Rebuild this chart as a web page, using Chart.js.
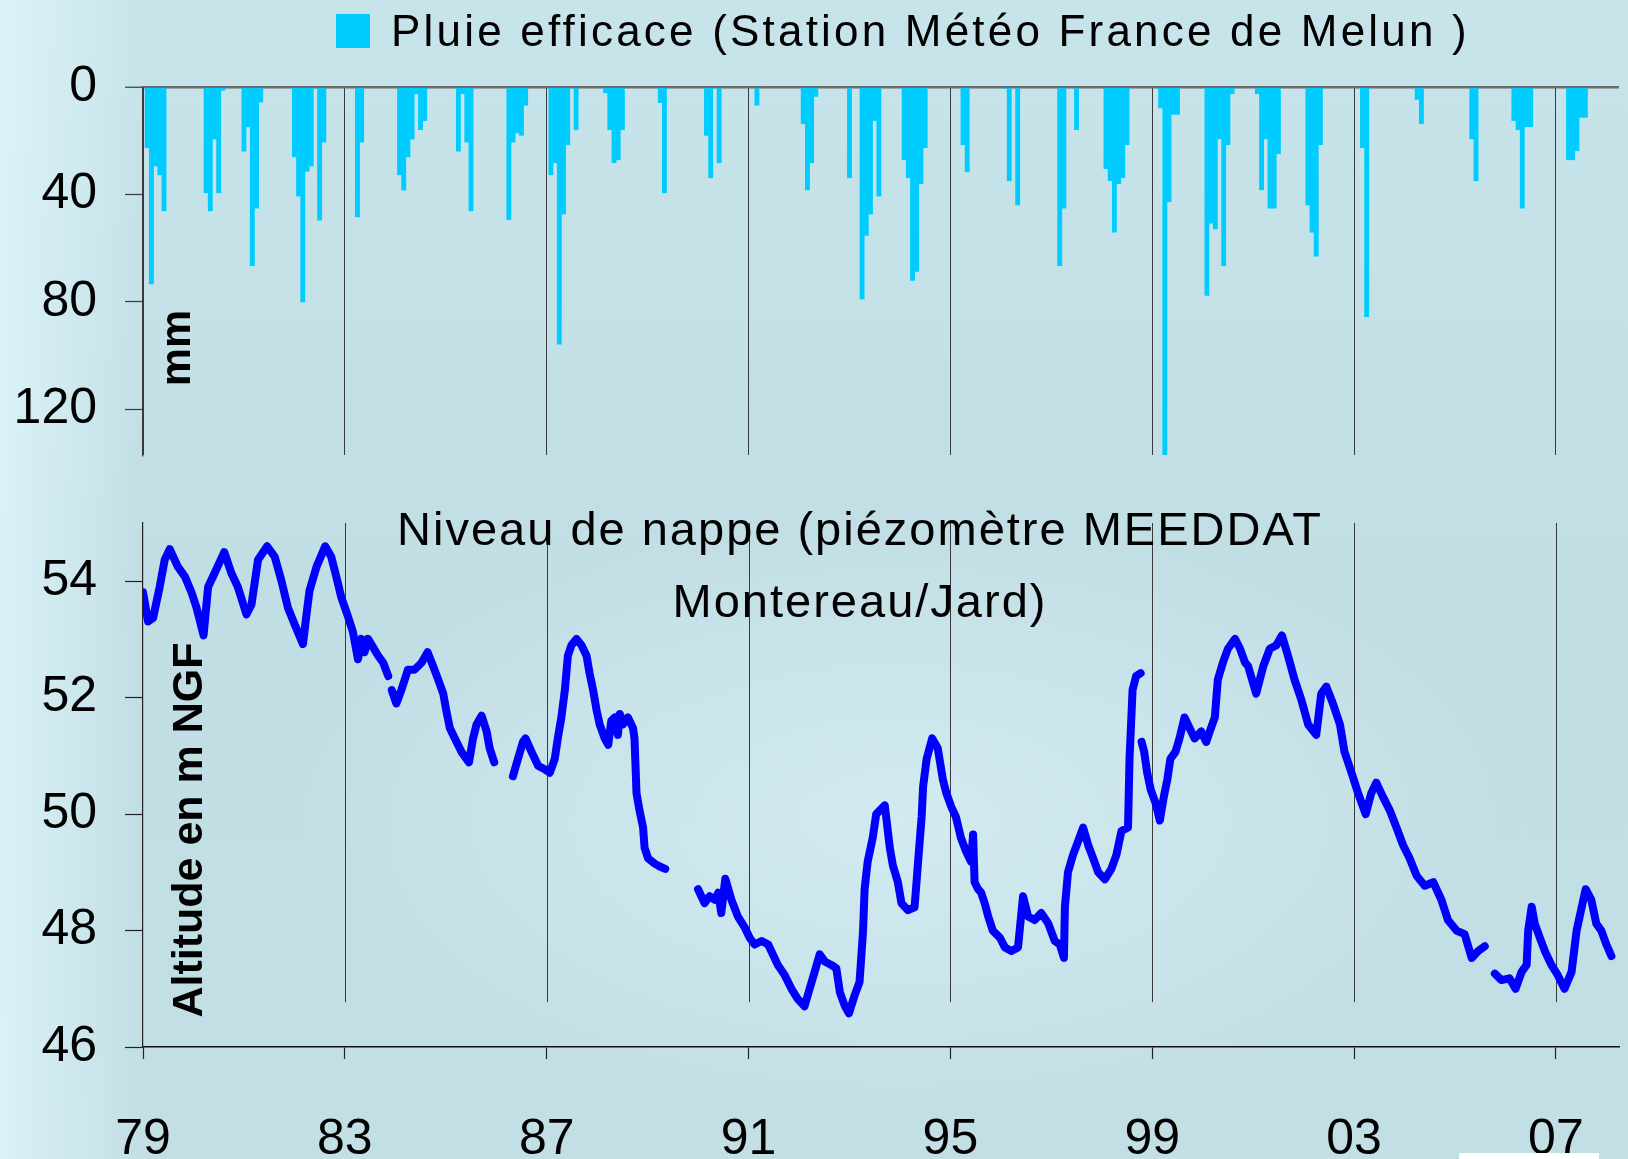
<!DOCTYPE html>
<html lang="fr">
<head>
<meta charset="utf-8">
<title>Pluie efficace et niveau de nappe</title>
<script src="https://cdn.jsdelivr.net/npm/chart.js"></script>
<style>
  html, body { margin: 0; padding: 0; }
  body {
    width: 1628px; height: 1159px; overflow: hidden; position: relative;
    background:
      linear-gradient(90deg, rgba(225,248,253,0.75) 0px, rgba(225,248,253,0) 140px),
      radial-gradient(ellipse 600px 300px at 900px 820px, rgba(214,238,244,0.8), rgba(214,238,244,0)),
      linear-gradient(180deg, #c8e4eb 0%, #c2dee5 50%, #c3dfe6 100%);
  }
  .box { position: absolute; left: 0; }
  #rainBox { top: 0; }
  #levelBox { top: 470px; }
  #corner { position: absolute; left: 1459px; top: 1153px; width: 140px; height: 6px; background: #fff; }
</style>
</head>
<body>
<div class="box" id="rainBox"><canvas id="rainChart" width="1628" height="470"></canvas></div>
<div class="box" id="levelBox"><canvas id="levelChart" width="1628" height="689"></canvas></div>
<div id="corner"></div>
<script>
// Pluie efficace mensuelle (mm)
const rainLabel = 'Pluie efficace (Station Météo France de Melun )';
const rainMonths = [
  '1979-02','1979-03','1979-04','1979-05','1979-06',
  '1980-04','1980-05','1980-06','1980-07','1980-08',
  '1981-01','1981-02','1981-03','1981-04','1981-05',
  '1982-01','1982-02','1982-03','1982-04','1982-05','1982-07','1982-08',
  '1983-04','1983-05',
  '1984-02','1984-03','1984-04','1984-05','1984-06','1984-07','1984-08',
  '1985-04','1985-05','1985-06','1985-07',
  '1986-04','1986-05','1986-06','1986-07','1986-08',
  '1987-02','1987-03','1987-04','1987-05','1987-06','1987-08',
  '1988-03','1988-04','1988-05','1988-06','1988-07',
  '1989-04','1989-05',
  '1990-03','1990-04','1990-06',
  '1991-03',
  '1992-02','1992-03','1992-04','1992-05',
  '1993-01','1993-04','1993-05','1993-06','1993-07','1993-08',
  '1994-02','1994-03','1994-04','1994-05','1994-06','1994-07',
  '1995-04','1995-05',
  '1996-02','1996-03','1996-05',
  '1997-03','1997-04','1997-07',
  '1998-02','1998-03','1998-04','1998-05','1998-06','1998-07',
  '1999-03','1999-04','1999-05','1999-06','1999-07',
  '2000-02','2000-03','2000-04','2000-05','2000-06','2000-07','2000-08',
  '2001-02','2001-03','2001-04','2001-05','2001-06','2001-07',
  '2002-02','2002-03','2002-04','2002-05',
  '2003-03','2003-04',
  '2004-04','2004-05',
  '2005-05','2005-06',
  '2006-03','2006-04','2006-05','2006-06','2006-07',
  '2007-04','2007-05','2007-06','2007-07','2007-08'
];
const rainMm = [
  22.6, 73.3, 29.4, 32.7, 46.1,
  39.4, 46.1, 19.4, 39.4, 1.2,
  23.9, 14.8, 66.5, 45.1, 5.6,
  26, 40.6, 80, 31.4, 29.4, 49.6, 20.5,
  48.4, 20.5,
  32.7, 38.4, 26, 19.4, 2.5, 15.9, 12.5,
  23.9, 2.5, 20.5, 46.1,
  49.4, 20.5, 17.1, 18, 6.8,
  32.7, 28.2, 95.7, 47.3, 21.5, 15.9,
  2.2, 15.9, 28.2, 27.1, 15.9,
  5.8, 39.4,
  18, 33.8, 28.2,
  6.8,
  13.7, 38.3, 28.2, 3.5,
  33.8, 78.9, 55.3, 47.3, 12.5, 40.6,
  27.1, 33.8, 72, 68.7, 36, 22.6,
  21.5, 31.6,
  0.6, 34.9, 43.9,
  66.5, 45.1, 15.9,
  30.4, 34.9, 54, 36, 33.8, 21.5,
  7.8, 137, 42.7, 10.2, 10.2,
  77.6, 50.7, 52.8, 19.3, 66.5, 21.5, 2.5,
  2.5, 38.3, 19.3, 45.1, 45.1, 24.8,
  43.9, 54, 63, 21.5,
  22.6, 85.5,
  4.6, 13.7,
  19.3, 34.9,
  12.5, 15.9, 45.1, 14.8, 14.8,
  27.1, 27.1, 23.7, 11.3, 11.3
];
const rainTicks = [0, 40, 80, 120];

// Niveau de nappe (m NGF), null = lacune
const levelTitleLines = ['Niveau de nappe (piézomètre MEEDDAT', 'Montereau/Jard)'];
const levelYear = [
  1979.00, 1979.10, 1979.20, 1979.33, 1979.43, 1979.53, 1979.69, 1979.83, 1979.96,
  1980.06, 1980.20, 1980.29, 1980.42, 1980.61, 1980.75, 1980.88,
  1981.05, 1981.15, 1981.28, 1981.46, 1981.61, 1981.74, 1981.87,
  1982.01, 1982.17, 1982.24, 1982.30, 1982.44, 1982.61, 1982.73, 1982.83, 1982.93,
  1983.06, 1983.16, 1983.26, 1983.33, 1983.39, 1983.46, 1983.66, 1983.76, 1983.86,
  1983.895,
  1983.93, 1984.02, 1984.12, 1984.25, 1984.38, 1984.52, 1984.64, 1984.75, 1984.85, 1984.95,
  1985.01, 1985.08, 1985.18, 1985.31, 1985.46, 1985.54, 1985.61, 1985.71, 1985.81, 1985.87, 1985.96,
  1986.15,
  1986.33, 1986.43, 1986.53, 1986.58, 1986.70, 1986.83, 1986.96,
  1987.06, 1987.16, 1987.22, 1987.29, 1987.36, 1987.42, 1987.49, 1987.59, 1987.69, 1987.79, 1987.85, 1987.92, 1987.99,
  1988.05, 1988.15, 1988.22, 1988.28, 1988.35, 1988.41, 1988.45, 1988.51, 1988.61, 1988.71, 1988.74, 1988.78, 1988.84, 1988.91, 1988.94,
  1989.01, 1989.14, 1989.24, 1989.35,
  1989.70,
  1990.00, 1990.13, 1990.23, 1990.33, 1990.40, 1990.46, 1990.54, 1990.66, 1990.79, 1990.92,
  1991.02, 1991.12, 1991.26, 1991.39, 1991.45, 1991.58, 1991.72, 1991.85, 1991.98,
  1992.11, 1992.21, 1992.31, 1992.41, 1992.51, 1992.64, 1992.74, 1992.81, 1992.91, 1992.99,
  1993.10, 1993.20, 1993.27, 1993.30, 1993.36, 1993.46, 1993.53, 1993.70, 1993.80, 1993.86, 1993.96,
  1994.03, 1994.16, 1994.29, 1994.36, 1994.43, 1994.46, 1994.53, 1994.64, 1994.75, 1994.85, 1994.92,
  1995.02, 1995.11, 1995.21, 1995.31, 1995.41, 1995.45, 1995.48, 1995.55, 1995.61, 1995.68, 1995.75, 1995.84, 1995.98,
  1996.08, 1996.21, 1996.34, 1996.44, 1996.54, 1996.67, 1996.80, 1996.94,
  1997.07, 1997.17, 1997.25, 1997.27, 1997.33, 1997.43, 1997.53, 1997.63, 1997.73, 1997.83, 1997.93,
  1998.06, 1998.19, 1998.29, 1998.39, 1998.52, 1998.55, 1998.58, 1998.61, 1998.68, 1998.77,
  1998.78,
  1998.79, 1998.84, 1998.90, 1998.97,
  1999.07, 1999.15, 1999.23, 1999.30, 1999.36, 1999.46, 1999.54, 1999.64, 1999.74, 1999.84, 1999.97,
  2000.07, 2000.14, 2000.24, 2000.30, 2000.40, 2000.50, 2000.64, 2000.74, 2000.84, 2000.90,
  2001.06, 2001.20, 2001.33, 2001.46, 2001.57, 2001.69, 2001.82, 2001.96,
  2002.09, 2002.25, 2002.35, 2002.45, 2002.58, 2002.72, 2002.81, 2002.95,
  2003.08, 2003.23, 2003.34, 2003.44, 2003.57, 2003.71, 2003.84, 2003.97,
  2004.10, 2004.24, 2004.40, 2004.57, 2004.73, 2004.86,
  2005.03, 2005.19, 2005.33, 2005.46, 2005.59,
  2005.70,
  2005.79, 2005.92, 2006.08, 2006.20, 2006.32, 2006.42, 2006.45, 2006.52, 2006.58, 2006.68, 2006.78, 2006.91,
  2007.04, 2007.17, 2007.31, 2007.41, 2007.47, 2007.59, 2007.70, 2007.80, 2007.90, 2008.00, 2008.10
];
const levelM = [
  53.81, 53.31, 53.37, 53.90, 54.37, 54.55, 54.25, 54.08, 53.81,
  53.55, 53.07, 53.90, 54.14, 54.50, 54.14, 53.90,
  53.43, 53.60, 54.37, 54.60, 54.42, 54.02, 53.55,
  53.25, 52.92, 53.43, 53.84, 54.25, 54.60, 54.42, 54.08, 53.72,
  53.40, 53.13, 52.66, 53.01, 52.78, 53.01, 52.72, 52.60, 52.37,
  null,
  52.13, 51.90, 52.13, 52.48, 52.48, 52.60, 52.78, 52.54, 52.31, 52.07,
  51.78, 51.48, 51.30, 51.07, 50.89, 51.30, 51.54, 51.69, 51.42, 51.13, 50.89,
  null,
  50.65, 50.95, 51.24, 51.30, 51.07, 50.83, 50.77,
  50.71, 50.95, 51.30, 51.66, 52.13, 52.72, 52.90, 53.01, 52.90, 52.72, 52.42, 52.13, 51.78,
  51.54, 51.30, 51.19, 51.60, 51.66, 51.36, 51.72, 51.54, 51.66, 51.48, 51.30, 50.36, 50.06, 49.77, 49.42,
  49.24, 49.15, 49.10, 49.06,
  null,
  48.71, 48.47, 48.59, 48.53, 48.65, 48.30, 48.89, 48.53, 48.24, 48.06,
  47.88, 47.76, 47.82, 47.76, 47.65, 47.41, 47.23, 47.00, 46.82,
  46.70, 47.00, 47.29, 47.59, 47.47, 47.41, 47.35, 46.94, 46.70, 46.58,
  46.88, 47.12, 48.00, 48.71, 49.18, 49.59, 50.00, 50.15, 49.42, 49.12, 48.83,
  48.47, 48.35, 48.40, 49.18, 49.95, 50.48, 50.95, 51.30, 51.13, 50.60, 50.36,
  50.12, 49.95, 49.59, 49.36, 49.18, 49.65, 48.83, 48.71, 48.65, 48.47, 48.24, 48.00, 47.88,
  47.71, 47.65, 47.71, 48.59, 48.24, 48.18, 48.30, 48.12,
  47.82, 47.76, 47.53, 48.41, 49.00, 49.30, 49.53, 49.77, 49.47, 49.24, 49.00,
  48.88, 49.06, 49.30, 49.71, 49.77, 50.95, 51.54, 52.13, 52.37, 52.42,
  null,
  51.24, 51.07, 50.71, 50.42,
  50.18, 49.89, 50.30, 50.60, 50.95, 51.07, 51.30, 51.66, 51.48, 51.30, 51.42,
  51.24, 51.42, 51.66, 52.31, 52.60, 52.84, 53.01, 52.84, 52.60, 52.54,
  52.07, 52.54, 52.84, 52.90, 53.07, 52.72, 52.31, 51.95,
  51.54, 51.36, 52.07, 52.19, 51.90, 51.54, 51.07, 50.71,
  50.36, 50.00, 50.36, 50.54, 50.30, 50.06, 49.77, 49.47,
  49.24, 48.94, 48.77, 48.83, 48.53, 48.18,
  48.00, 47.94, 47.53, 47.65, 47.73,
  null,
  47.26, 47.15, 47.18, 47.00, 47.29, 47.41, 48.00, 48.41, 48.12, 47.88, 47.65, 47.41,
  47.23, 47.00, 47.29, 48.00, 48.24, 48.71, 48.53, 48.12, 48.00, 47.76, 47.56
];
const levelTicks = [46, 48, 50, 52, 54];

const yearTicks = [1979, 1983, 1987, 1991, 1995, 1999, 2003, 2007];
const yearLabels = ['79', '83', '87', '91', '95', '99', '03', '07'];

const rainColor = '#00ccff';
const lineColor = '#0000ff';
const gridColor = '#3a3a3a';
const fontName = '"Liberation Sans", Arial, sans-serif';
const tickFont = { family: fontName, size: 50 };

Chart.defaults.font.family = fontName;

function monthToYear(s) {
  const [y, m] = s.split('-').map(Number);
  return y + (m - 1) / 12;
}
const rainData = rainMonths.map((m, i) => ({ x: monthToYear(m), y: rainMm[i] }));
const levelData = levelYear.map((x, i) => ({ x: x, y: levelM[i] }));

function fixedTicks(list) {
  return scale => { scale.ticks = list.map(v => ({ value: v })); };
}
function noPad(scale) {
  scale.paddingTop = 0; scale.paddingBottom = 0;
  scale.paddingLeft = 0; scale.paddingRight = 0;
}

// rotated axis captions sitting inside the plot
function sideLabel(id, text, x, y) {
  return {
    id: id,
    afterDraw(chart) {
      const ctx = chart.ctx;
      ctx.save();
      ctx.translate(x, y);
      ctx.rotate(-Math.PI / 2);
      ctx.font = 'bold 43px ' + fontName;
      ctx.fillStyle = '#000';
      ctx.textAlign = 'center';
      ctx.textBaseline = 'alphabetic';
      ctx.fillText(text, 0, 0);
      ctx.restore();
    }
  };
}

const rainLegend = {
  id: 'rainLegend',
  afterDraw(chart) {
    const ctx = chart.ctx;
    const ds = chart.data.datasets[0];
    ctx.save();
    ctx.fillStyle = ds.backgroundColor;
    ctx.fillRect(336, 14, 34, 34);
    ctx.fillStyle = '#000';
    ctx.font = '44px ' + fontName;
    ctx.letterSpacing = '3.2px';
    ctx.textBaseline = 'alphabetic';
    ctx.fillText(ds.label, 391, 46);
    ctx.restore();
  }
};

// year lines of the lower plot stop short of the x axis
const yearLines = {
  id: 'yearLines',
  beforeDatasetsDraw(chart) {
    const { ctx, chartArea, scales } = chart;
    const bottom = scales.y.getPixelForValue(46.77);
    ctx.save();
    ctx.strokeStyle = gridColor;
    ctx.lineWidth = 1;
    yearTicks.slice(1).forEach(v => {
      const px = Math.round(scales.x.getPixelForValue(v)) + 0.5;
      ctx.beginPath();
      ctx.moveTo(px, chartArea.top);
      ctx.lineTo(px, bottom);
      ctx.stroke();
    });
    ctx.restore();
  }
};

const levelTitle = {
  id: 'levelTitle',
  afterDraw(chart) {
    const ctx = chart.ctx;
    ctx.save();
    ctx.font = '47px ' + fontName;
    ctx.letterSpacing = '2px';
    ctx.fillStyle = '#000';
    ctx.textAlign = 'center';
    ctx.textBaseline = 'alphabetic';
    levelTitleLines.forEach((t, i) => ctx.fillText(t, 860, 75 + i * 72));
    ctx.restore();
  }
};

// Pluie efficace
new Chart(document.getElementById('rainChart'), {
  type: 'bar',
  data: {
    datasets: [{
      label: rainLabel,
      data: rainData,
      backgroundColor: rainColor,
      borderWidth: 0,
      barPercentage: 1,
      categoryPercentage: 1
    }]
  },
  options: {
    responsive: false,
    animation: false,
    layout: { padding: { top: 87, right: 9, bottom: 15, left: 0 } },
    plugins: { legend: { display: false }, tooltip: { enabled: false } },
    scales: {
      x: {
        type: 'linear', min: 1979, max: 2008.25, offset: false,
        afterBuildTicks: fixedTicks(yearTicks),
        afterFit: s => { s.height = 0; noPad(s); },
        ticks: { display: false },
        grid: { color: gridColor, lineWidth: 1, drawTicks: false, offset: false },
        border: { display: false }
      },
      y: {
        reverse: true, min: 0, max: 137,
        afterBuildTicks: fixedTicks(rainTicks),
        afterFit: s => { s.width = 143; noPad(s); },
        ticks: { font: tickFont, color: '#000', padding: 28 },
        grid: {
          color: c => (c.tick && c.tick.value === 0) ? '#6b6b6b' : 'rgba(0,0,0,0)',
          lineWidth: c => (c.tick && c.tick.value === 0) ? 2.5 : 1,
          tickColor: gridColor, tickLength: 18, tickWidth: 1.2
        },
        border: { color: gridColor, width: 1.2 }
      }
    }
  },
  plugins: [rainLegend, sideLabel('mmLabel', 'mm', 190, 348)]
});

// Niveau de nappe
new Chart(document.getElementById('levelChart'), {
  type: 'line',
  data: {
    datasets: [{
      label: levelTitleLines.join(' '),
      data: levelData,
      borderColor: lineColor,
      borderWidth: 8,
      pointRadius: 0,
      tension: 0,
      spanGaps: false,
      borderJoinStyle: 'round',
      borderCapStyle: 'round'
    }]
  },
  options: {
    responsive: false,
    animation: false,
    layout: { padding: { top: 53, right: 9, bottom: 0, left: 0 } },
    plugins: { legend: { display: false }, tooltip: { enabled: false } },
    scales: {
      x: {
        type: 'linear', min: 1979, max: 2008.25,
        afterBuildTicks: fixedTicks(yearTicks),
        afterFit: s => { s.height = 112; noPad(s); },
        ticks: {
          font: tickFont, color: '#000', padding: 51,
          maxRotation: 0, autoSkip: false,
          callback: (v, i) => yearLabels[i]
        },
        grid: { drawOnChartArea: false, tickLength: 12, tickColor: '#222', tickWidth: 1.2 },
        border: { color: '#111', width: 1.5 }
      },
      y: {
        min: 46, max: 55,
        afterBuildTicks: fixedTicks(levelTicks),
        afterFit: s => { s.width = 143; noPad(s); },
        ticks: { font: tickFont, color: '#000', padding: 28 },
        grid: { drawOnChartArea: false, tickLength: 18, tickColor: '#222', tickWidth: 1.2 },
        border: { color: '#222', width: 1.2 }
      }
    }
  },
  plugins: [yearLines, levelTitle, sideLabel('altLabel', 'Altitude en m NGF', 202, 360)]
});
</script>
</body>
</html>
